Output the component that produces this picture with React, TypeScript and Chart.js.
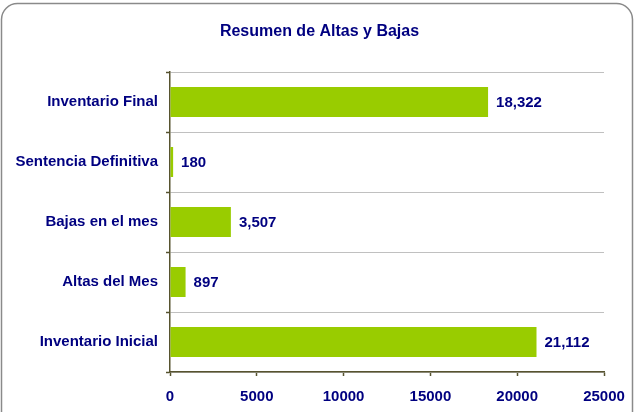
import React, { useEffect, useRef } from "react";
import { Chart, registerables } from "chart.js";

Chart.register(...registerables);

const TITLE = "Resumen de Altas y Bajas";
const categories = [
  "Inventario Final",
  "Sentencia Definitiva",
  "Bajas en el mes",
  "Altas del Mes",
  "Inventario Inicial",
];
const values = [18322, 180, 3507, 897, 21112];
const xTicks = [0, 5000, 10000, 15000, 20000, 25000];

const NAVY = "#000080";
const GREEN = "#99CC00";
const AXIS = "#57532f";
const GRID = "#c0c0c0";
const FONT = "'Liberation Sans', Arial, sans-serif";

const framePlugin = {
  id: "frame",
  beforeDraw(chart: any) {
    const ctx = chart.ctx;
    ctx.save();
    ctx.fillStyle = "#ffffff";
    ctx.fillRect(0, 0, chart.width, chart.height);
    const x = 1.5, y = 3.5, w = 631, h = 440, r = 16;
    ctx.beginPath();
    ctx.moveTo(x + r, y);
    ctx.lineTo(x + w - r, y);
    ctx.arcTo(x + w, y, x + w, y + r, r);
    ctx.lineTo(x + w, y + h);
    ctx.lineTo(x, y + h);
    ctx.lineTo(x, y + r);
    ctx.arcTo(x, y, x + r, y, r);
    ctx.closePath();
    ctx.strokeStyle = "#8a8a8a";
    ctx.lineWidth = 1.5;
    ctx.stroke();
    // title
    ctx.font = `bold 16px ${FONT}`;
    ctx.fillStyle = NAVY;
    ctx.textAlign = "center";
    ctx.textBaseline = "middle";
    ctx.fillText(TITLE, chart.width / 2, 32);
    ctx.restore();
  },
};

const labelPlugin = {
  id: "valueLabels",
  afterDatasetsDraw(chart: any) {
    const ctx = chart.ctx;
    const meta = chart.getDatasetMeta(0);
    ctx.save();
    ctx.font = `bold 15px ${FONT}`;
    ctx.fillStyle = NAVY;
    ctx.textAlign = "left";
    ctx.textBaseline = "middle";
    meta.data.forEach((bar: any, i: number) => {
      const v = values[i];
      ctx.fillText(v.toLocaleString("en-US"), bar.x + 8, bar.y + 1);
    });
    ctx.restore();
  },
};

export default function App() {
  const ref = useRef<HTMLCanvasElement>(null);
  useEffect(() => {
    if (!ref.current) return;
    const chart = new Chart(ref.current, {
      type: "bar",
      data: {
        labels: categories,
        datasets: [
          {
            data: values,
            backgroundColor: GREEN,
            borderWidth: 0,
            barPercentage: 0.5,
            categoryPercentage: 1,
          },
        ],
      },
      options: {
        indexAxis: "y",
        responsive: false,
        animation: false,
        layout: { padding: { left: 0, right: 35, top: 72, bottom: 0 } },
        plugins: {
          legend: { display: false },
          tooltip: { enabled: false },
          title: { display: false },
        },
        scales: {
          x: {
            type: "linear",
            min: 0,
            max: 25000,
            afterBuildTicks(scale: any) {
              scale.ticks = xTicks.map((v) => ({ value: v }));
            },
            afterFit(scale: any) {
              scale.height = 40;
            },
            border: { display: true, color: AXIS, width: 1.5 },
            grid: {
              drawOnChartArea: false,
              drawTicks: true,
              tickLength: 4,
              tickColor: AXIS,
              tickWidth: 1.5,
            },
            ticks: {
              color: NAVY,
              font: { family: FONT, size: 15, weight: "bold" },
              padding: 12,
              maxRotation: 0,
              callback: (v: any) => String(v),
            },
          },
          y: {
            type: "category",
            afterFit(scale: any) {
              scale.width = 170;
            },
            border: { display: true, color: AXIS, width: 1.5 },
            grid: {
              display: true,
              drawOnChartArea: true,
              offset: true,
              color: GRID,
              lineWidth: 1,
              drawTicks: true,
              tickLength: 4,
              tickColor: AXIS,
              tickWidth: 1.5,
            },
            ticks: {
              color: NAVY,
              font: { family: FONT, size: 15, weight: "bold" },
              padding: 8,
            },
          },
        },
      },
      plugins: [framePlugin, labelPlugin],
    });
    return () => chart.destroy();
  }, []);
  return (
    <div style={{ position: "fixed", left: 0, top: 0, width: 639, height: 412 }}>
      <canvas ref={ref} width={639} height={412} />
    </div>
  );
}
